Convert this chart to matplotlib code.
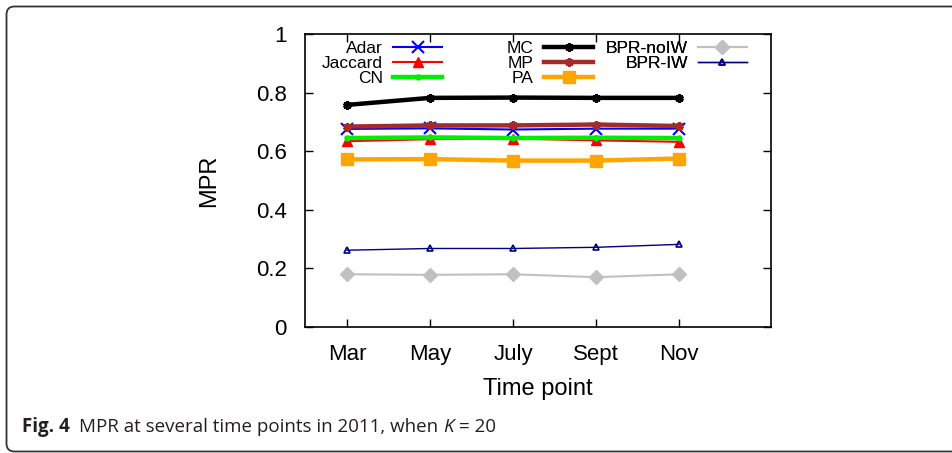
import matplotlib
matplotlib.use("Agg")
import matplotlib.pyplot as plt
from matplotlib.patches import FancyBboxPatch
from matplotlib.transforms import IdentityTransform

plt.rcParams['font.family'] = ['Liberation Sans', 'DejaVu Sans']

time_points = ["Mar", "May", "July", "Sept", "Nov"]
adar = [0.676, 0.678, 0.674, 0.677, 0.677]
jaccard = [0.634, 0.641, 0.643, 0.637, 0.632]
cn = [0.645, 0.647, 0.645, 0.646, 0.645]
mc = [0.758, 0.782, 0.783, 0.782, 0.782]
mp = [0.684, 0.688, 0.688, 0.691, 0.686]
pa = [0.572, 0.573, 0.568, 0.568, 0.575]
bpr_noiw = [0.180, 0.178, 0.180, 0.170, 0.180]
bpr_iw = [0.262, 0.268, 0.268, 0.272, 0.282]
y_ticks = [0, 0.2, 0.4, 0.6, 0.8, 1]
y_tick_labels = ["0", "0.2", "0.4", "0.6", "0.8", "1"]

W, H = 953, 453
fig = plt.figure(figsize=(W / 100, H / 100), dpi=100)
ax = fig.add_axes([305 / W, 1 - 327 / H, (771 - 305) / W, (327 - 34) / H])

x = list(range(len(time_points)))
star = (6, 2, 0)
l_adar, = ax.plot(x, adar, color='#0000ff', lw=1.5, marker='x', ms=9, mew=1.5, label='Adar')
l_jac, = ax.plot(x, jaccard, color='#ff0000', lw=1.5, marker='^', ms=7, label='Jaccard')
l_cn, = ax.plot(x, cn, color='#00ee00', lw=3.2, marker='o', ms=3.5, label='CN')
l_mc, = ax.plot(x, mc, color='black', lw=3.2, marker=star, ms=6, mew=2.2, label='MC')
l_mp, = ax.plot(x, mp, color='#a52a2a', lw=3.2, marker=star, ms=6, mew=2.2, label='MP')
l_pa, = ax.plot(x, pa, color='#ffa500', lw=3.2, marker='s', ms=8, label='PA')
l_no, = ax.plot(x, bpr_noiw, color='#c0c0c0', lw=1.5, marker='D', ms=7, label='BPR-noIW')
l_iw, = ax.plot(x, bpr_iw, color='#000080', lw=1.0, marker='^', ms=5, mfc='none', mew=1.2, label='BPR-IW')

ax.set_xlim(-0.506, 5.108)
ax.set_ylim(0, 1)
ax.set_xticks(x)
ax.set_xticklabels(time_points)
ax.set_yticks(y_ticks)
ax.set_yticklabels(y_tick_labels)
ax.tick_params(direction='in', length=6, width=1, labelsize=16, top=True, right=True)
ax.tick_params(axis='y', pad=13)
ax.tick_params(axis='x', pad=12.5)
for s in ax.spines.values():
    s.set_linewidth(1.2)
ax.set_xlabel("Time point", fontsize=17, labelpad=9)
ax.set_ylabel("MPR", fontsize=17, labelpad=26)

groups = [([l_adar, l_jac, l_cn], 0.294), ([l_mc, l_mp, l_pa], 0.618), ([l_no, l_iw], 0.948)]
for handles, xa in groups:
    leg = ax.legend(handles=handles, loc='upper right', bbox_to_anchor=(xa, 0.978),
                    frameon=False, markerfirst=False, fontsize=12.5, handlelength=2.8,
                    handletextpad=0.6, labelspacing=0.0, borderpad=0, borderaxespad=0,
                    numpoints=1)
    ax.add_artist(leg)

# Border frame
frame = FancyBboxPatch((6.5, 1.5), 960, 445, boxstyle="round,pad=0,rounding_size=8",
                       transform=IdentityTransform(), fill=False, edgecolor='#333333',
                       lw=1.3, clip_on=False)
fig.patches.append(frame)

# Caption
fig.canvas.draw()
r = fig.canvas.get_renderer()
cap_font = ['Open Sans', 'DejaVu Sans']
xpos = 22
yb = 1 - 432 / H
pieces = [("Fig. 4", 'bold', 'normal', 9),
          ("MPR at several time points in 2011, when ", 'normal', 'normal', 0),
          ("K", 'normal', 'italic', 6),
          ("= 20", 'normal', 'normal', 0)]
for txt, wt, st, gap in pieces:
    t = fig.text(xpos / W, yb, txt, fontsize=13.5, fontweight=wt, fontstyle=st,
                 family=cap_font, va='baseline', ha='left', color='#231f20')
    bb = t.get_window_extent(renderer=r)
    xpos += bb.width + gap

fig.savefig("out.png", dpi=100)
